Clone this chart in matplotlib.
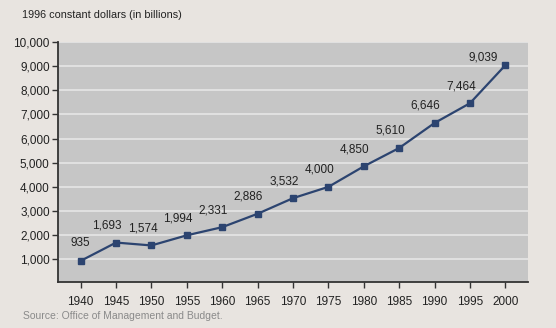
import matplotlib
matplotlib.use("Agg")
import matplotlib.pyplot as plt

# Data
years = [1940, 1945, 1950, 1955, 1960, 1965, 1970, 1975, 1980, 1985, 1990, 1995, 2000]
values = [935, 1693, 1574, 1994, 2331, 2886, 3532, 4000, 4850, 5610, 6646, 7464, 9039]
y_ticks = [1000, 2000, 3000, 4000, 5000, 6000, 7000, 8000, 9000, 10000]

BG = "#e8e4e0"
PLOT_BG = "#c6c6c6"
LINE = "#2c4470"
TEXT = "#222222"

plt.rcParams["font.family"] = ["Liberation Sans", "DejaVu Sans"]

fig = plt.figure(figsize=(5.56, 3.28), dpi=100, facecolor=BG)
# axes placed in pixel terms: left 58, right 528, top 42, bottom 282
W, H = 556, 328
ax = fig.add_axes([58 / W, (H - 282) / H, (528 - 58) / W, (282 - 42) / H])
ax.set_facecolor(PLOT_BG)

ax.set_xlim(1936.8, 2003.2)
ax.set_ylim(60, 10000)
ax.set_yticks(y_ticks)
ax.set_yticklabels([f"{v:,}" for v in y_ticks])
ax.set_xticks(years)
ax.set_xticklabels([str(y) for y in years])

ax.yaxis.grid(True, color="#e6e6e6", linewidth=1.2)
ax.set_axisbelow(True)

for s in ["top", "right"]:
    ax.spines[s].set_visible(False)
for s in ["left", "bottom"]:
    ax.spines[s].set_color("#333333")
    ax.spines[s].set_linewidth(1.3)

ax.tick_params(axis="y", direction="out", length=4, width=1, color="#333333",
               labelsize=8.5, labelcolor=TEXT, pad=2)
ax.tick_params(axis="x", direction="out", length=4, width=1, color="#333333",
               labelsize=8.5, labelcolor=TEXT, pad=6)

ax.plot(years, values, color=LINE, linewidth=1.6, marker="s", markersize=5,
        markerfacecolor=LINE, markeredgecolor=LINE, zorder=3)

# value labels
for i, (x, v) in enumerate(zip(years, values)):
    if i == 0:
        off = (0, 12)
    elif i == len(years) - 1:
        off = (-22, 2)
    else:
        off = (-9, 11)
    ax.annotate(f"{v:,}", (x, v), xytext=off, textcoords="offset pixels",
                ha="center", va="bottom", fontsize=8.5, color=TEXT)

fig.text(22 / W, 1 - 15 / H, "1996 constant dollars (in billions)",
         ha="left", va="center", fontsize=7.8, color=TEXT)
fig.text(23 / W, 1 - 316 / H, "Source: Office of Management and Budget.",
         ha="left", va="center", fontsize=7.5, color="#8a8a8a")

fig.savefig("out.png", dpi=100, facecolor=BG)
